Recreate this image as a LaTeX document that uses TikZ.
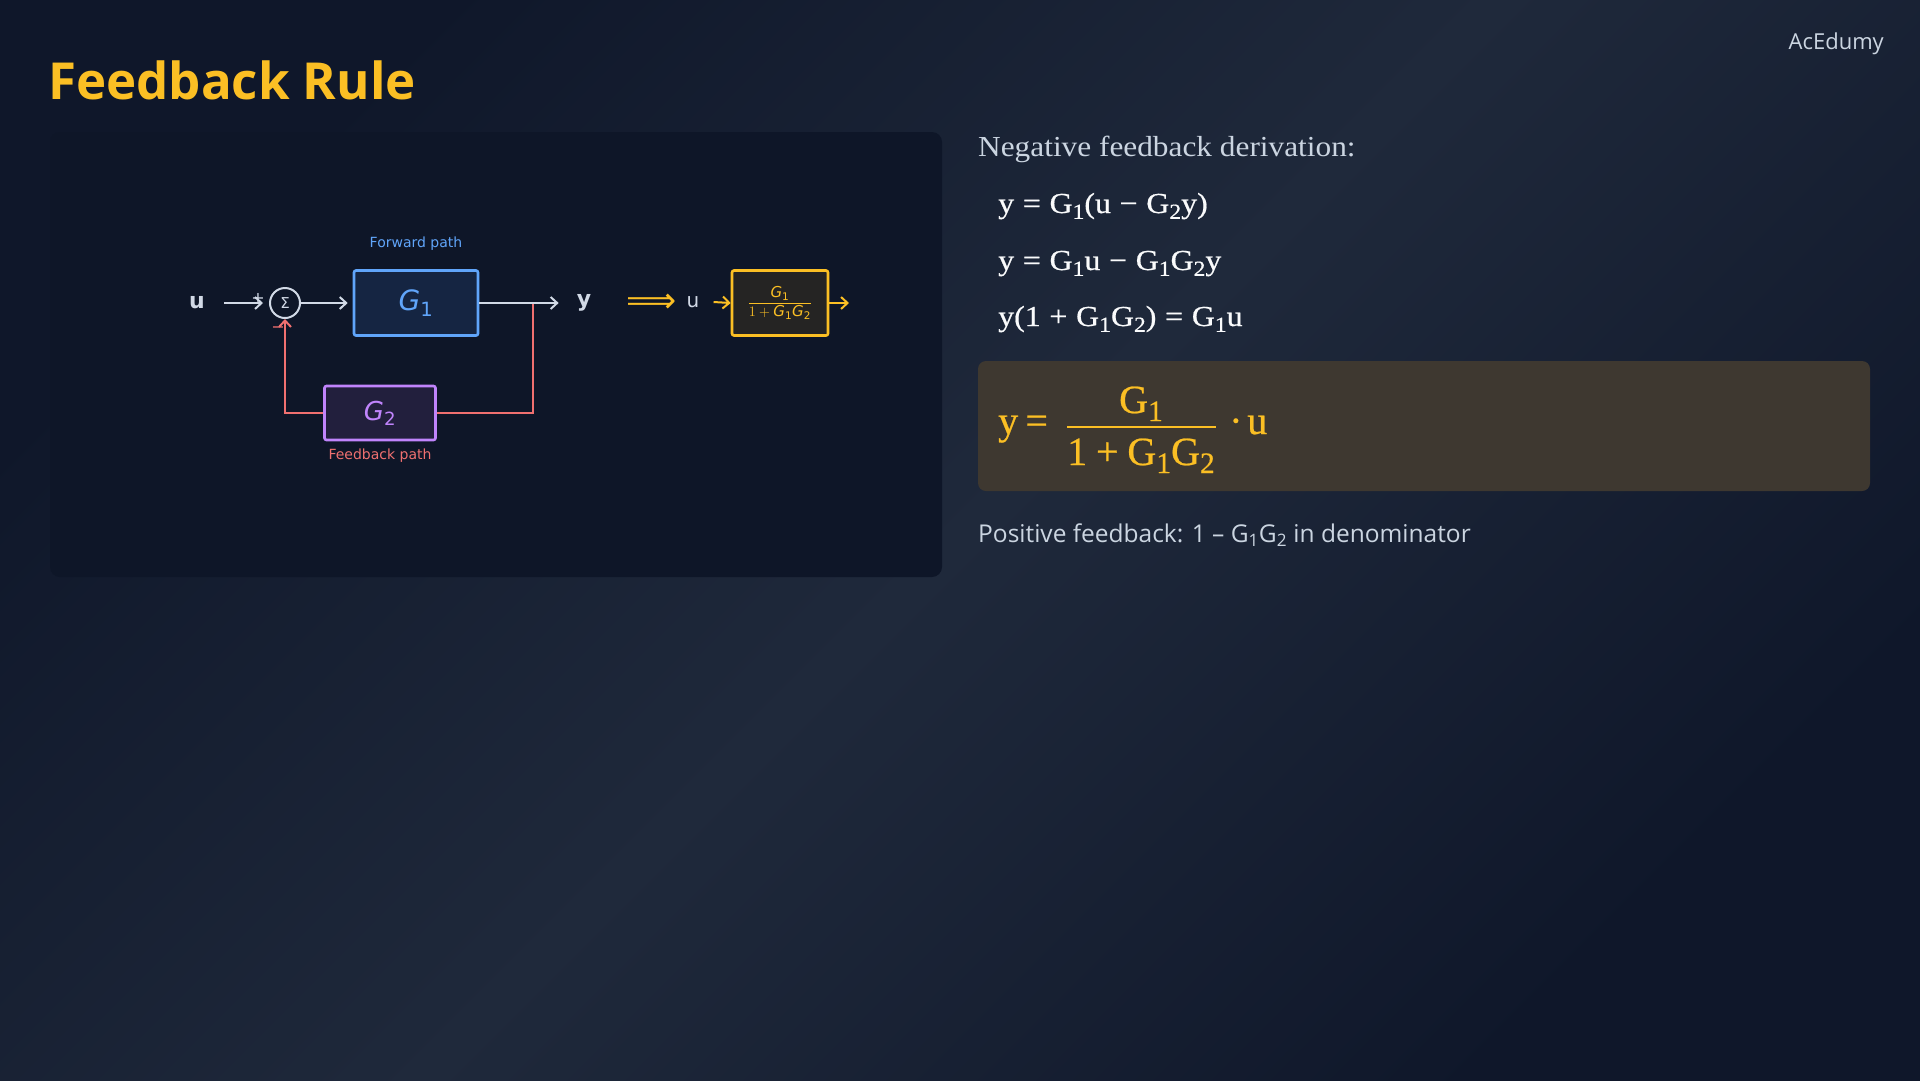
\documentclass[tikz,border=0pt]{standalone}
\usepackage{amsmath}
\usepackage{graphicx}
\usepackage{fontspec}
\usetikzlibrary{arrows.meta,calc}
\setmainfont{Liberation Serif}[FakeStretch=1.08]
\newfontfamily\cmb{Liberation Serif}[FakeStretch=1.1, FakeBold=0.6]
\newfontfamily\cmc{Liberation Serif}[FakeBold=0.6]
\newfontfamily\djf{DejaVu Sans}
\newfontfamily\osf{Open Sans}
\definecolor{bgA}{HTML}{0F172A}
\definecolor{bgB}{HTML}{1F293B}
\definecolor{panel}{HTML}{0E1628}
\definecolor{ink}{HTML}{D1D9E6}
\definecolor{txt}{HTML}{CBD5E1}
\definecolor{bl}{HTML}{60A5FA}
\definecolor{blfill}{HTML}{152542}
\definecolor{pu}{HTML}{C084FC}
\definecolor{pufill}{HTML}{221F3D}
\definecolor{rd}{HTML}{F07070}
\definecolor{yl}{HTML}{FBBF24}
\definecolor{ylfill}{HTML}{252423}
\definecolor{hl}{HTML}{3E3830}
\newcommand\mG[1]{\text{\djf\itshape G}_{\text{\djf #1}}}
\newcommand\sbt[1]{\raisebox{-0.2em}{\scalebox{0.74}{#1}}}
\newcommand\Gs[1]{G\sbt{#1}}
\newcommand\opr[1]{\hspace{0.3em}#1\hspace{0.3em}}
\tikzset{
  blk/.style={draw, line width=2.6pt, rounded corners=2pt, inner sep=0pt},
  lbl/.style={inner sep=0pt, font=\djf\fontsize{14}{16}\selectfont},
  arr/.style={line width=2pt, -{Straight Barb[length=6.5pt,width=12pt,line width=2pt]}},
  eqn/.style={anchor=base west, inner sep=0pt, text=white!90!txt, font=\cmb\fontsize{29}{36}\selectfont},
  bigf/.style={inner sep=0pt, text=yl, font=\cmc\fontsize{40}{46}\selectfont},
}
\begin{document}
\begin{tikzpicture}[x=1pt,y=-1pt]
\useasboundingbox (0,0) rectangle (1920,1080);
\shade[shading=axis, left color=bgA, right color=bgA, middle color=bgB, shading angle=45] (0,0) rectangle (1920,1080);
% title and brand
\node[anchor=west, inner sep=0pt, text=yl, font=\osf\bfseries\fontsize{51}{60}\selectfont] (title) at (48,80) {Feedback Rule};
\node[anchor=east, inner sep=0pt, text=txt, font=\osf\fontsize{22}{26}\selectfont] (brand) at (1884,44) {AcEdumy};
% panel
\fill[panel, rounded corners=10pt] (50,132) rectangle (942,577);
% diagram
\begin{scope}[yshift=-2pt]
\node[inner sep=0pt, text=ink, font=\djf\bfseries\fontsize{22}{26}\selectfont] (u) at (197,301) {u};
\node[draw=ink, circle, line width=2pt, minimum size=30pt, inner sep=0pt, text=ink, font=\djf\fontsize{15}{17}\selectfont] (sum) at (285,301) {Σ};
\node[inner sep=0pt, text=ink, font=\djf\fontsize{16}{18}\selectfont] (plus) at (258,296) {+};
\node[blk, draw=bl, fill=blfill, minimum width=124pt, minimum height=65pt, text=bl, font=\djf\fontsize{28}{32}\selectfont] (g1) at (416,301) {$\mG{1}$};
\node[lbl, text=bl] (fwd) at (416,242) {Forward path};
\node[inner sep=0pt, text=ink, font=\djf\bfseries\fontsize{22}{26}\selectfont] (y) at (584,301) {y};
\coordinate (br) at (533,301);
\node[blk, draw=pu, fill=pufill, minimum width=111pt, minimum height=54pt, text=pu, font=\djf\fontsize{26}{30}\selectfont] (g2) at (380,411) {$\mG{2}$};
\node[lbl, text=rd] (fb) at (380,454) {Feedback path};
\node[inner sep=0pt, text=rd, font=\djf\fontsize{16}{18}\selectfont] (minus) at (278,328) {\textminus};
\draw[arr, ink] (224,301) -- ($(sum.west)+(-6,0)$);
\draw[arr, ink] (sum.east) -- ($(g1.west)+(-5,0)$);
\draw[line width=2pt, rd] (br) |- (g2.east);
\draw[arr, rd] (g2.west) -| (sum.south);
\draw[arr, ink] (g1.east) -- ($(y.west)+(-18,0)$);
% equivalent block
\node[inner sep=0pt, text=yl, font=\djf\fontsize{35}{38}\selectfont] (impl) at (652,301) {⟹};
\node[inner sep=0pt, text=ink, font=\djf\fontsize{20}{24}\selectfont] (u2) at (693,300) {u};
\node[blk, draw=yl, fill=ylfill, minimum width=96pt, minimum height=65pt, text=yl, font=\djf\fontsize{15}{17}\selectfont] (gc) at (780,301) {$\dfrac{\mG{1}}{1+\mG{1}\mG{2}}$};
\coordinate (out) at (849,301);
\draw[arr, yl] ($(u2.east)+(14,0)$) -- (gc.west);
\draw[arr, yl] (gc.east) -- (out);
\end{scope}
% right column
\node[anchor=base west, inner sep=0pt, text=txt, font=\fontsize{29}{34}\selectfont] (hd) at (978,156) {Negative feedback derivation:};
\node[eqn] (e1) at (998,213) {y\opr{=}\Gs{1}(u\opr{−}\Gs{2}y)};
\node[eqn] (e2) at (998,270) {y\opr{=}\Gs{1}u\opr{−}\Gs{1}\Gs{2}y};
\node[eqn] (e3) at (998,326) {y(1\opr{+}\Gs{1}\Gs{2})\opr{=}\Gs{1}u};
\fill[hl, rounded corners=8pt] (978,361) rectangle (1870,491);
\node[bigf, anchor=base west] (ry) at (998,434) {y\hspace{0.18em}=};
\node[bigf, anchor=base] (rnum) at (1141,413) {\Gs{1}};
\node[bigf, anchor=base] (rden) at (1141,465) {1\hspace{0.22em}+\hspace{0.22em}\Gs{1}\Gs{2}};
\coordinate (fl) at (1067,427);
\coordinate (fr) at (1216,427);
\draw[yl, line width=2.8pt] (fl) -- (fr);
\node[bigf, anchor=base west] (ru) at (1229,434) {·\hspace{0.12em}u};
\node[anchor=west, inner sep=0pt, text=txt, font=\osf\fontsize{24.5}{28}\selectfont] (pos) at (978,535) {Positive feedback: 1 – G\textsubscript{1}G\textsubscript{2} in denominator};
\end{tikzpicture}
\end{document}
